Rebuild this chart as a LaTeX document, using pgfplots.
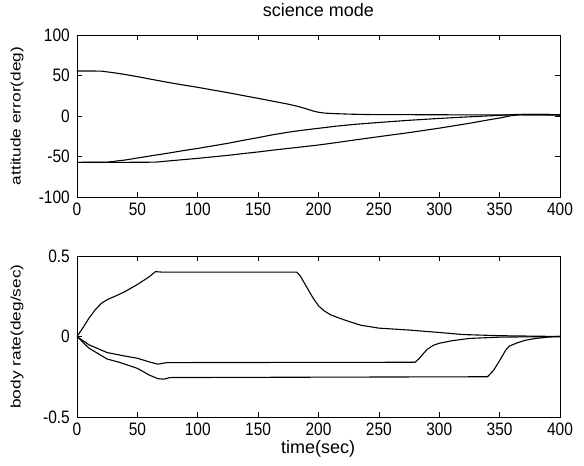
\documentclass[border=0pt]{standalone}
\usepackage{pgfplots}
\pgfplotsset{compat=1.18}
\usepackage{fontspec}
\usepackage{graphicx}
\setmainfont{Liberation Sans}
\newfontfamily\tickfont{Liberation Sans}[FakeStretch=0.86]

\pgfplotsset{
  matlab/.style={
    scale only axis,
    width=483pt,
    xmin=0, xmax=400,
    xtick={0,50,100,150,200,250,300,350,400},
    xticklabels={0,50,100,150,200,250,300,350,400},
    tick align=inside,
    major tick length=5pt,
    axis line style={line width=0.8pt, black},
    tick style={line width=0.6pt, black},
    tick label style={font=\tickfont\fontsize{18}{20}\selectfont},
    xticklabel style={inner sep=0pt, yshift=-6pt},
    yticklabel style={inner sep=0pt, xshift=-7pt},
    label style={font=\fontsize{18}{20}\selectfont},
  },
  crv/.style={black, line width=1.1pt, mark=none, line join=round},
}

\begin{document}
\begin{tikzpicture}[x=1pt,y=1pt]
\path[use as bounding box] (0,0) rectangle (584,466);

\begin{axis}[matlab,
  at={(77pt,269pt)}, anchor=south west,
  height=162pt,
  ymin=-100, ymax=100,
  ytick={-100,-50,0,50,100},
  yticklabels={-100,-50,0,50,100},
  title={science mode},
  title style={at={(axis description cs:0.5,1.115)}, anchor=center, font=\fontsize{18}{20}\selectfont},
  ylabel={\fontsize{17.3}{20}\selectfont\scalebox{1}[0.8]{attitude error(deg)}},
  ylabel style={at={(axis description cs:-0.124,0.5)}, anchor=center},
]
\addplot[crv] coordinates {(0,55.6)(10,55.6)(20,55.4)(30,53.5)(40,51.2)(50,48.6)(62,45.2)(75,41.6)(87,38.5)(100,35.4)(112,32.2)(125,28.8)(137,25.4)(150,21.8)(162,18.3)(175,14.6)(183,11.8)(190,8.8)(196,6)(200,4.6)(205,3.6)(212,3)(225,2.3)(240,1.8)(300,1.5)(400,1.2)};
\addplot[crv] coordinates {(0,-57.2)(25,-57)(40,-54.3)(50,-51.9)(62,-49)(75,-46)(87,-43)(100,-40)(112,-37)(125,-33.7)(137,-30.2)(150,-26.7)(162,-23.2)(175,-20)(187,-17.5)(200,-15.2)(215,-12.5)(230,-10.3)(250,-8)(275,-5.3)(300,-3)(325,-1)(350,0.8)(365,2)(385,2)(400,1.5)};
\addplot[crv] coordinates {(0,-57.2)(40,-57.2)(65,-57)(75,-55.6)(87,-54)(100,-52.3)(112,-50.5)(125,-48.6)(137,-46.5)(150,-44.4)(162,-42.2)(175,-40)(187,-38)(200,-35.8)(215,-32.8)(230,-29.6)(250,-25.5)(275,-20.5)(300,-15)(325,-9)(340,-5)(350,-2.5)(360,0.5)(370,2)(385,2)(400,1.5)};
\end{axis}

\begin{axis}[matlab,
  at={(77pt,49pt)}, anchor=south west,
  height=161pt,
  ymin=-0.5, ymax=0.5,
  ytick={-0.5,0,0.5},
  yticklabels={-0.5,0,0.5},
  xlabel={time(sec)},
  xlabel style={at={(axis description cs:0.499,-0.2)}, anchor=center},
  ylabel={\fontsize{17.3}{20}\selectfont\scalebox{1}[0.8]{body rate(deg/sec)}},
  ylabel style={at={(axis description cs:-0.124,0.5)}, anchor=center},
]
\addplot[crv] coordinates {(0,0)(5,0.055)(10,0.115)(15,0.165)(20,0.205)(25,0.229)(30,0.245)(35,0.262)(40,0.28)(50,0.323)(60,0.372)(65,0.403)(70,0.40)(182,0.40)(185,0.375)(190,0.31)(195,0.245)(200,0.19)(205,0.158)(210,0.135)(218,0.112)(225,0.094)(235,0.07)(250,0.052)(275,0.04)(300,0.025)(320,0.012)(350,0.005)(400,0)};
\addplot[crv] coordinates {(0,0)(10,-0.052)(25,-0.1)(40,-0.122)(50,-0.135)(60,-0.158)(67,-0.172)(72,-0.165)(75,-0.162)(280,-0.16)(283,-0.14)(287,-0.105)(290,-0.08)(295,-0.055)(300,-0.042)(310,-0.027)(325,-0.012)(350,-0.004)(400,0)};
\addplot[crv] coordinates {(0,0)(10,-0.073)(25,-0.14)(35,-0.16)(50,-0.198)(60,-0.24)(67,-0.262)(72,-0.265)(77,-0.255)(340,-0.25)(345,-0.21)(350,-0.15)(355,-0.085)(358,-0.06)(365,-0.038)(372,-0.022)(380,-0.012)(390,-0.004)(400,0)};
\end{axis}
\end{tikzpicture}
\end{document}
